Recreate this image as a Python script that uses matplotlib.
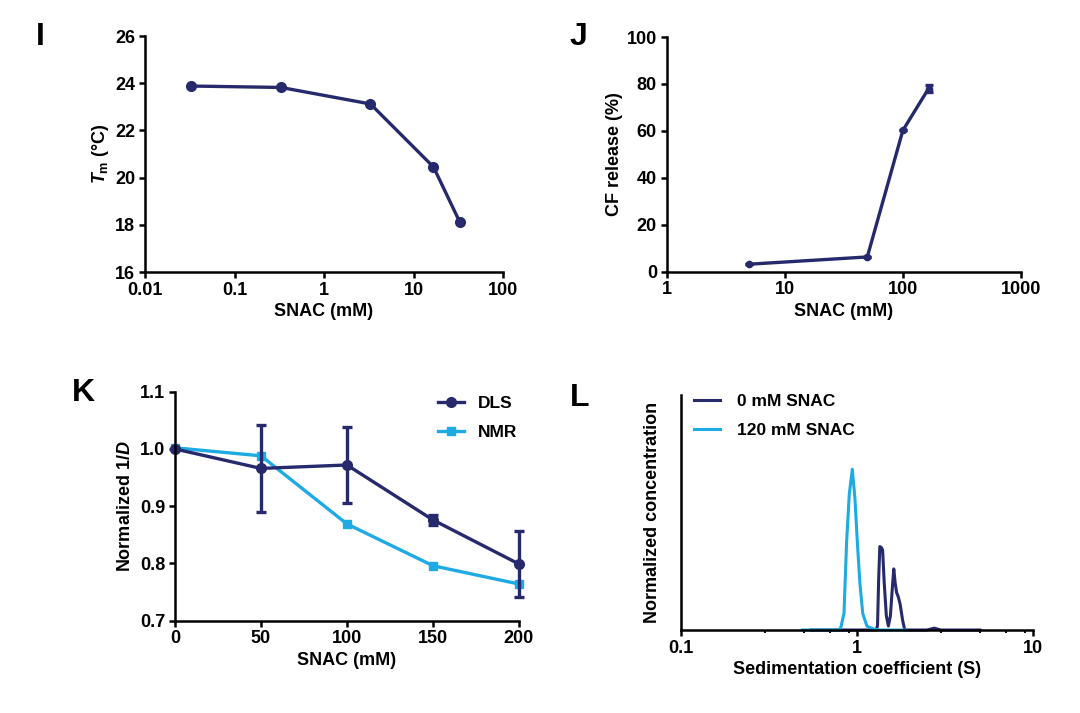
import numpy as np
import matplotlib
matplotlib.use("Agg")
import matplotlib.pyplot as plt
from matplotlib.ticker import FixedLocator, FixedFormatter, NullLocator

plt.rcParams['font.family'] = ['Liberation Sans', 'DejaVu Sans']
plt.rcParams['font.weight'] = 'bold'
plt.rcParams['mathtext.fontset'] = 'custom'
plt.rcParams['mathtext.it'] = 'Liberation Sans:italic:bold'
plt.rcParams['mathtext.rm'] = 'Liberation Sans:bold'

NAVY = '#262a6c'
CYAN = '#1eaae2'
FS = 13

# --- panel I: melting temperature vs SNAC
snac_i = [0.033, 0.33, 3.3, 16.7, 33.0]
tm_i = [23.88, 23.82, 23.12, 20.45, 18.1]
ticks_i = [0.01, 0.1, 1, 10, 100]
ticklab_i = ['0.01', '0.1', '1', '10', '100']

# --- panel J: CF release
snac_j = [5, 50, 100, 165]
cf_j = [3.2, 6.3, 60.2, 78.0]
cf_err_j = [0, 0, 0, 1.5]
ticks_j = [1, 10, 100, 1000]
ticklab_j = ['1', '10', '100', '1000']

# --- panel K: normalized 1/D
snac_k = [0, 50, 100, 150, 200]
dls = [1.0, 0.966, 0.972, 0.876, 0.799]
dls_err = [0.0, 0.076, 0.067, 0.008, 0.057]
nmr = [1.002, 0.988, 0.869, 0.796, 0.764]

# --- panel L: sedimentation coefficient distributions
s_0mm = [0.55, 1.0, 1.29, 1.31, 1.33, 1.35, 1.38, 1.40, 1.43, 1.47, 1.51, 1.55,
         1.59, 1.62, 1.65, 1.68, 1.72, 1.76, 1.82, 1.87, 2.5, 2.75, 3.0, 5.0]
c_0mm = [0.0, 0.0, 0.0, 0.02, 0.22, 0.355, 0.35, 0.34, 0.2, 0.06, 0.017, 0.06,
         0.18, 0.26, 0.2, 0.16, 0.14, 0.11, 0.04, 0.0, 0.0, 0.008, 0.0, 0.0]
s_120mm = [0.49, 0.79, 0.81, 0.845, 0.875, 0.906, 0.942, 0.975, 1.005, 1.04,
           1.08, 1.14, 1.24, 1.35, 1.9]
c_120mm = [0.0, 0.0, 0.01, 0.07, 0.38, 0.58, 0.684, 0.56, 0.38, 0.2,
           0.07, 0.017, 0.004, 0.0, 0.0]
ticks_l = [0.1, 1, 10]
ticklab_l = ['0.1', '1', '10']


def style_axes(ax):
    for side in ['top', 'right']:
        ax.spines[side].set_visible(False)
    for side in ['left', 'bottom']:
        ax.spines[side].set_linewidth(1.8)
    ax.tick_params(direction='out', length=4.5, width=1.8, labelsize=FS, pad=2.5)
    ax.tick_params(which='minor', direction='out', length=2.5, width=1.4)
    for lab in ax.get_xticklabels() + ax.get_yticklabels():
        lab.set_fontweight('bold')


fig = plt.figure(figsize=(10.8, 7.13), dpi=100)

# I
ax = fig.add_axes([0.1343, 0.6185, 0.3315, 0.331])
ax.plot(snac_i, tm_i, color=NAVY, lw=2.4, marker='o', ms=7, clip_on=False)
ax.set_xscale('log')
ax.set_xlim(0.01, 100)
ax.set_ylim(16, 26)
ax.xaxis.set_major_locator(FixedLocator(ticks_i))
ax.xaxis.set_major_formatter(FixedFormatter(ticklab_i))
ax.xaxis.set_minor_locator(NullLocator())
ax.set_yticks([16, 18, 20, 22, 24, 26])
ax.set_xlabel('SNAC (mM)', fontsize=FS, fontweight='bold', labelpad=3)
ax.set_ylabel(r'$T_\mathrm{m}$ (°C)', fontsize=FS, fontweight='bold', labelpad=3)
style_axes(ax)
fig.text(40 / 1080, 1 - 37 / 713, 'I', fontsize=23, fontweight='bold', ha='center', va='center')

# J
ax = fig.add_axes([0.6173, 0.6189, 0.328, 0.3292])
ax.plot(snac_j, cf_j, color=NAVY, lw=2.4, marker='o', ms=4.5, clip_on=False)
ax.errorbar(snac_j, cf_j, yerr=cf_err_j, fmt='none', ecolor=NAVY,
            capsize=3, elinewidth=2.4, capthick=2.4, clip_on=False)
ax.set_xscale('log')
ax.set_xlim(1, 1000)
ax.set_ylim(0, 100)
ax.xaxis.set_major_locator(FixedLocator(ticks_j))
ax.xaxis.set_major_formatter(FixedFormatter(ticklab_j))
ax.xaxis.set_minor_locator(NullLocator())
ax.set_yticks([0, 20, 40, 60, 80, 100])
ax.set_xlabel('SNAC (mM)', fontsize=FS, fontweight='bold', labelpad=3)
ax.set_ylabel('CF release (%)', fontsize=FS, fontweight='bold', labelpad=3)
style_axes(ax)
fig.text(578 / 1080, 1 - 37 / 713, 'J', fontsize=23, fontweight='bold', ha='center', va='center')

# K
ax = fig.add_axes([0.162, 0.1295, 0.3185, 0.3211])
ax.plot(snac_k, nmr, color=CYAN, lw=2.4, marker='s', ms=6, label='NMR', clip_on=False)
ax.plot(snac_k, dls, color=NAVY, lw=2.4, marker='o', ms=7, label='DLS', clip_on=False)
ax.errorbar(snac_k, dls, yerr=dls_err, fmt='none', ecolor=NAVY,
            capsize=3.5, elinewidth=2.4, capthick=2.4, clip_on=False)
ax.set_xlim(0, 200)
ax.set_ylim(0.7, 1.1)
ax.set_xticks([0, 50, 100, 150, 200])
ax.set_yticks([0.7, 0.8, 0.9, 1.0, 1.1])
ax.set_yticklabels(['0.7', '0.8', '0.9', '1.0', '1.1'])
ax.set_xlabel('SNAC (mM)', fontsize=FS, fontweight='bold', labelpad=3)
ax.set_ylabel(r'Normalized 1/$D$', fontsize=FS, fontweight='bold', labelpad=4)
style_axes(ax)
h, l = ax.get_legend_handles_labels()
ax.legend(h[::-1], l[::-1], loc='upper left', bbox_to_anchor=(438 / 1080, 1 - 396 / 713),
          bbox_transform=fig.transFigure, frameon=False, fontsize=12.5, borderpad=0,
          borderaxespad=0, handlelength=1.5, handletextpad=0.8, labelspacing=0.8)
fig.text(83 / 1080, 1 - 393 / 713, 'K', fontsize=23, fontweight='bold', ha='center', va='center')

# L
ax = fig.add_axes([0.6303, 0.1164, 0.3262, 0.3296])
ax.plot(s_0mm, c_0mm, color=NAVY, lw=2.2, label='0 mM SNAC', clip_on=False)
ax.plot(s_120mm, c_120mm, color=CYAN, lw=2.2, label='120 mM SNAC', clip_on=False)
ax.set_xscale('log')
ax.set_xlim(0.1, 10)
ax.set_ylim(0, 1)
ax.xaxis.set_major_locator(FixedLocator(ticks_l))
ax.xaxis.set_major_formatter(FixedFormatter(ticklab_l))
ax.xaxis.set_minor_locator(FixedLocator([0.3, 0.5, 0.7, 0.9, 3, 5, 7, 9]))
ax.set_yticks([])
ax.set_xlabel('Sedimentation coefficient (S)', fontsize=FS, fontweight='bold', labelpad=3)
ax.set_ylabel('Normalized concentration', fontsize=FS, fontweight='bold', labelpad=14)
style_axes(ax)
ax.legend(loc='upper left', bbox_to_anchor=(694 / 1080, 1 - 394 / 713),
          bbox_transform=fig.transFigure, frameon=False, fontsize=12.5, borderpad=0,
          borderaxespad=0, handlelength=1.5, handletextpad=1.0, labelspacing=0.8)
fig.text(580 / 1080, 1 - 398 / 713, 'L', fontsize=23, fontweight='bold', ha='center', va='center')

fig.savefig('out.png', dpi=100)
